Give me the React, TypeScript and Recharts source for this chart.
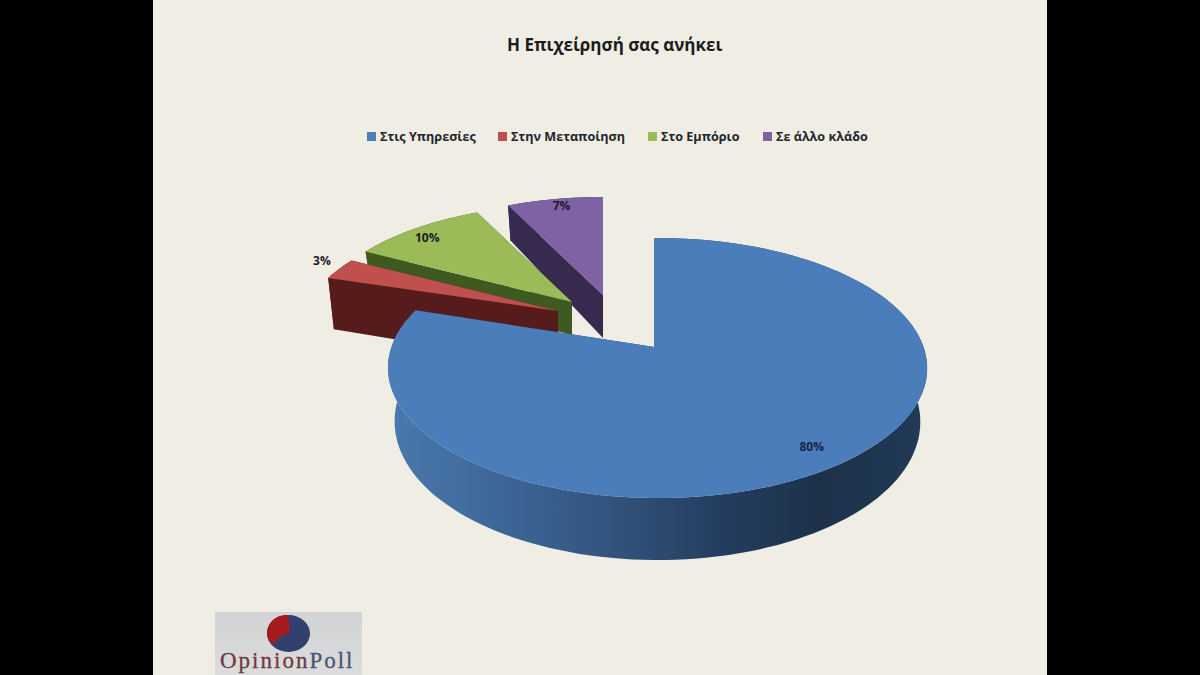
import { PieChart, Pie, Legend } from "recharts";

const categories = ["Στις Υπηρεσίες", "Στην Μεταποίηση", "Στο Εμπόριο", "Σε άλλο κλάδο"];
const shares = [80, 3, 10, 7];
const topColors = ["#4a7dba", "#c0504d", "#9bbb59", "#7f62a3"];
const wallColors = ["url(#blueWall)", "#561c1c", "#3f5a20", "#38294f"];

const legendLefts = [367, 498, 648, 763];

// how far each slice is pulled out of the pie, and how it is sized
const sliceDx = [0, -96, -82, -51];
const sliceDy = [0, -36, -45, -52];
const sliceScaleX = [1, 0.965, 0.965, 0.965];
const sliceScaleY = [1, 0.9, 0.9, 0.9];
const sliceDepth = [52, 55, 33, 43];
const labelRadius = [0.885, 1.085, 0.92, 0.84];
const labelNudge = [-4, -5, 4, -7];

// reversed so the big slice is painted last, angles run the other way to compensate
const data = categories
  .map((name, i) => ({ name, value: shares[i] }))
  .reverse();

const PERSPECTIVE = 0.1615;
const TILT_X = 0.013;
const FLATTEN = 0.476;
const RAD = Math.PI / 180;

function project(cx: number, cy: number, r: number, angle: number, frac: number, i: number) {
  const X = Math.cos(angle * RAD) * frac;
  const Y = -Math.sin(angle * RAD) * frac;
  const den = 1 - PERSPECTIVE * Y - TILT_X * X;
  return {
    x: cx + sliceDx[i] + (sliceScaleX[i] * r * X) / den,
    y: cy + sliceDy[i] + (sliceScaleY[i] * r * FLATTEN * Y) / den,
    Y,
  };
}

function arcPoints(cx: number, cy: number, r: number, a0: number, a1: number, frac: number, i: number) {
  const n = Math.max(4, Math.ceil(Math.abs(a1 - a0) / 2));
  const pts = [];
  for (let k = 0; k <= n; k++) {
    pts.push(project(cx, cy, r, a0 + ((a1 - a0) * k) / n, frac, i));
  }
  return pts;
}

const toPath = (pts: { x: number; y: number }[]) =>
  "M" + pts.map((p) => `${p.x.toFixed(1)},${p.y.toFixed(1)}`).join("L") + "Z";

function lower(p: { x: number; y: number; Y: number }, cx: number, cy: number, i: number) {
  // bottom plane sits a little smaller and lower than the top one
  const ax = cx + sliceDx[i];
  const ay = cy + sliceDy[i];
  const d = sliceDepth[i] * (1 + 0.25 * p.Y);
  return { x: ax + (p.x - ax) * 0.975, y: ay + (p.y - ay) * 0.98 + d, Y: p.Y };
}

function Slice3D(props: any) {
  const { cx, cy, outerRadius, startAngle, endAngle, name } = props;
  const i = categories.indexOf(name);
  const arc = arcPoints(cx, cy, outerRadius, startAngle, endAngle, 1, i);
  const apex = project(cx, cy, outerRadius, 0, 0, i);
  const wall = wallColors[i];
  const arcLow = arc.map((p) => lower(p, cx, cy, i));
  const apexLow = lower(apex, cx, cy, i);
  const first = arc[0];
  const last = arc[arc.length - 1];
  return (
    <g>
      <path d={toPath([apex, first, lower(first, cx, cy, i), apexLow])} fill={i === 0 ? "#1f3650" : wall} />
      <path d={toPath([apex, last, lower(last, cx, cy, i), apexLow])} fill={i === 0 ? "#1f3650" : wall} />
      <path d={toPath([...arc, ...arcLow.slice().reverse()])} fill={wall} />
      <path d={toPath([apex, ...arc])} fill={topColors[i]} />
    </g>
  );
}

function sliceLabel(props: any) {
  const { cx, cy, outerRadius, midAngle, name, value } = props;
  const i = categories.indexOf(name);
  const p = project(cx, cy, outerRadius, midAngle, labelRadius[i], i);
  return (
    <text
      key={name}
      x={p.x}
      y={p.y + labelNudge[i]}
      textAnchor="middle"
      dominantBaseline="central"
      fill={i === 0 ? "#14264a" : "#1d1a28"}
      style={{ fontFamily: "Open Sans", fontWeight: 700, fontSize: 12 }}
    >
      {value}%
    </text>
  );
}

function renderLegend() {
  return (
    <div style={{ position: "relative", width: 1200, height: 20 }}>
      {categories.map((c, i) => (
        <div
          key={c}
          style={{
            position: "absolute",
            left: legendLefts[i],
            top: 0,
            display: "flex",
            alignItems: "center",
            whiteSpace: "nowrap",
            fontFamily: "Open Sans",
            fontWeight: 700,
            fontSize: 12.6,
            color: "#23262b",
          }}
        >
          <span style={{ width: 9, height: 9, background: topColors[i], marginRight: 4 }} />
          {c}
        </div>
      ))}
    </div>
  );
}

export default function App() {
  return (
    <div style={{ position: "fixed", left: 0, top: 0, width: 1200, height: 675, background: "#000", overflow: "hidden" }}>
      <div style={{ position: "absolute", left: 153, top: 0, width: 894, height: 675, background: "#efede4" }} />
      <div
        style={{
          position: "absolute",
          left: 507,
          top: 33,
          whiteSpace: "nowrap",
          fontFamily: "Open Sans",
          fontWeight: 700,
          fontSize: 17,
          color: "#1c1c1c",
        }}
      >
        Η Επιχείρησή σας ανήκει
      </div>
      <div style={{ position: "absolute", left: 0, top: 0 }}>
        <PieChart width={1200} height={675} margin={{ top: 0, right: 0, bottom: 0, left: 0 }}>
          <defs>
            <linearGradient id="blueWall" x1="0" y1="0" x2="1" y2="0">
              <stop offset="0" stopColor="#4a79ad" />
              <stop offset="0.2" stopColor="#3d6899" />
              <stop offset="0.4" stopColor="#33557f" />
              <stop offset="0.6" stopColor="#253f61" />
              <stop offset="0.8" stopColor="#1d3249" />
              <stop offset="1" stopColor="#213a57" />
            </linearGradient>
          </defs>
          <Legend content={renderLegend} wrapperStyle={{ position: "absolute", left: 0, top: 128, width: 1200 }} />
          <Pie
            data={data}
            dataKey="value"
            nameKey="name"
            cx={654}
            cy={347}
            outerRadius={266}
            startAngle={90}
            endAngle={450}
            stroke="none"
            isAnimationActive={false}
            labelLine={false}
            label={sliceLabel}
            shape={Slice3D}
          />
        </PieChart>
      </div>
      <div
        style={{
          position: "absolute",
          left: 215,
          top: 612,
          width: 147,
          height: 63,
          background: "linear-gradient(#d2d3d6, #dcdcdc)",
          overflow: "hidden",
        }}
      >
        <svg width={147} height={40} style={{ position: "absolute", left: 0, top: 0 }}>
          <ellipse cx={73.5} cy={21.5} rx={21.5} ry={18.5} fill="#33406e" />
          <path d="M73,3 C60,2 52,12 52,21 C52,27 55,31 58,32 C64,24 72,22 75,20 Z" fill="#a51c1c" />
        </svg>
        <div
          style={{
            position: "absolute",
            left: 5,
            top: 36,
            fontFamily: "Liberation Serif",
            fontSize: 23,
            letterSpacing: 2,
            whiteSpace: "nowrap",
            color: "#6e3a44",
            WebkitTextStroke: "0.3px currentColor",
          }}
        >
          Opinion<span style={{ color: "#4a5570" }}>Poll</span>
        </div>
      </div>
    </div>
  );
}
